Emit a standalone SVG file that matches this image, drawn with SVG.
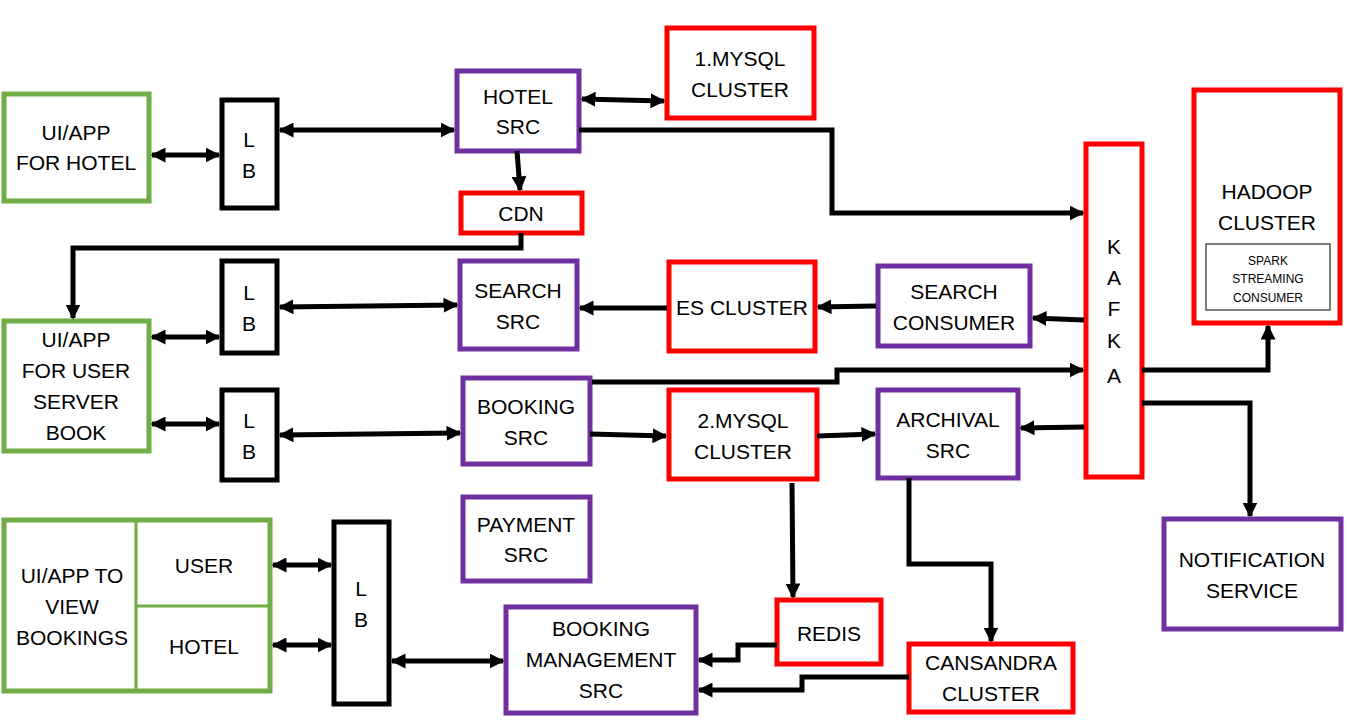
<svg xmlns="http://www.w3.org/2000/svg" width="1350" height="724" viewBox="0 0 1350 724">
<style>
.g{fill:#fff;stroke:#70AD47;stroke-width:5}
.k{fill:#fff;stroke:#000;stroke-width:5}
.p{fill:#fff;stroke:#7030A0;stroke-width:5}
.r{fill:#fff;stroke:#FF0000;stroke-width:5}
text{font-family:"Liberation Sans",Arial,sans-serif;font-size:21px;fill:#000;text-anchor:middle}
.s{font-size:12px}
.c{fill:none;stroke:#000;stroke-width:5}
</style>
<defs>
<marker id="a" viewBox="0 0 10 10" refX="9" refY="5" markerWidth="3" markerHeight="3" orient="auto"><path d="M0,0L10,5L0,10z" fill="#000"/></marker>
<marker id="b" viewBox="0 0 10 10" refX="1" refY="5" markerWidth="3" markerHeight="3" orient="auto"><path d="M10,0L0,5L10,10z" fill="#000"/></marker>
</defs>
<g id="uihotel"><rect class="g" x="4" y="94" width="145" height="107"/><text x="76" y="140">UI/APP</text><text x="76" y="170">FOR HOTEL</text></g>
<g id="lb1"><rect class="k" x="222" y="100" width="55" height="108"/><text x="249" y="147">L</text><text x="249" y="178">B</text></g>
<g id="hotelsrc"><rect class="p" x="457" y="71" width="122" height="80"/><text x="518" y="104">HOTEL</text><text x="518" y="134">SRC</text></g>
<g id="mysql1"><rect class="r" x="667" y="28" width="147" height="90"/><text x="740" y="66">1.MYSQL</text><text x="740" y="97">CLUSTER</text></g>
<g id="cdn"><rect class="r" x="461" y="193" width="121" height="40"/><text x="521" y="221">CDN</text></g>
<g id="hadoop"><rect class="r" x="1194" y="90" width="146" height="233"/><text x="1267" y="199">HADOOP</text><text x="1267" y="230">CLUSTER</text><rect x="1206" y="244" width="124" height="66" fill="#fff" stroke="#000" stroke-width="1"/><text class="s" x="1268" y="265">SPARK</text><text class="s" x="1268" y="283">STREAMING</text><text class="s" x="1268" y="302">CONSUMER</text></g>
<g id="kafka"><rect class="r" x="1086" y="144" width="56" height="333"/><text x="1114" y="254">K</text><text x="1114" y="285">A</text><text x="1114" y="316">F</text><text x="1114" y="348">K</text><text x="1114" y="383">A</text></g>
<g id="lb2"><rect class="k" x="222" y="261" width="55" height="92"/><text x="249" y="300">L</text><text x="249" y="331">B</text></g>
<g id="searchsrc"><rect class="p" x="460" y="261" width="117" height="88"/><text x="518" y="298">SEARCH</text><text x="518" y="329">SRC</text></g>
<g id="es"><rect class="r" x="669" y="262" width="146" height="89"/><text x="742" y="315">ES CLUSTER</text></g>
<g id="searchconsumer"><rect class="p" x="878" y="266" width="152" height="80"/><text x="954" y="299">SEARCH</text><text x="954" y="330">CONSUMER</text></g>
<g id="uiuser"><rect class="g" x="4" y="321" width="145" height="130"/><text x="76" y="347">UI/APP</text><text x="76" y="378">FOR USER</text><text x="76" y="409">SERVER</text><text x="76" y="440">BOOK</text></g>
<g id="lb3"><rect class="k" x="222" y="390" width="55" height="90"/><text x="249" y="428">L</text><text x="249" y="459">B</text></g>
<g id="bookingsrc"><rect class="p" x="463" y="378" width="127" height="86"/><text x="526" y="414">BOOKING</text><text x="526" y="445">SRC</text></g>
<g id="mysql2"><rect class="r" x="669" y="390" width="148" height="89"/><text x="743" y="428">2.MYSQL</text><text x="743" y="459">CLUSTER</text></g>
<g id="archival"><rect class="p" x="878" y="390" width="140" height="88"/><text x="948" y="427">ARCHIVAL</text><text x="948" y="458">SRC</text></g>
<g id="payment"><rect class="p" x="463" y="497" width="127" height="84"/><text x="526" y="532">PAYMENT</text><text x="526" y="562">SRC</text></g>
<g id="uiview"><rect class="g" x="4" y="520" width="266" height="171"/><line x1="136" y1="520" x2="136" y2="691" stroke="#70AD47" stroke-width="3"/><line x1="136" y1="606" x2="270" y2="606" stroke="#70AD47" stroke-width="3"/><text x="72" y="583">UI/APP  TO</text><text x="72" y="614">VIEW</text><text x="72" y="645">BOOKINGS</text><text x="204" y="573">USER</text><text x="204" y="654">HOTEL</text></g>
<g id="lb4"><rect class="k" x="334" y="522" width="55" height="182"/><text x="361" y="596">L</text><text x="361" y="627">B</text></g>
<g id="bms"><rect class="p" x="506" y="607" width="190" height="106"/><text x="601" y="636">BOOKING</text><text x="601" y="667">MANAGEMENT</text><text x="601" y="698">SRC</text></g>
<g id="redis"><rect class="r" x="777" y="600" width="104" height="64"/><text x="829" y="641">REDIS</text></g>
<g id="cassandra"><rect class="r" x="909" y="644" width="164" height="68"/><text x="991" y="670">CANSANDRA</text><text x="991" y="701">CLUSTER</text></g>
<g id="notification"><rect class="p" x="1164" y="519" width="177" height="110"/><text x="1252" y="567">NOTIFICATION</text><text x="1252" y="598">SERVICE</text></g>
<g id="connectors">
<path class="c" d="M152,155H219" marker-start="url(#b)" marker-end="url(#a)"/>
<path class="c" d="M280,130H454" marker-start="url(#b)" marker-end="url(#a)"/>
<path class="c" d="M582,99L664,101" marker-start="url(#b)" marker-end="url(#a)"/>
<path class="c" d="M517,151L520,190" marker-end="url(#a)"/>
<path class="c" d="M579,130H832V213H1083" marker-end="url(#a)"/>
<path class="c" d="M521,233V248H73V318" marker-end="url(#a)"/>
<path class="c" d="M152,337H219" marker-start="url(#b)" marker-end="url(#a)"/>
<path class="c" d="M280,307L457,305" marker-start="url(#b)" marker-end="url(#a)"/>
<path class="c" d="M667,308H580" marker-end="url(#a)"/>
<path class="c" d="M876,306L818,307" marker-end="url(#a)"/>
<path class="c" d="M1084,320L1033,318" marker-end="url(#a)"/>
<path class="c" d="M592,382H837V370H1083" marker-end="url(#a)"/>
<path class="c" d="M152,424H219" marker-start="url(#b)" marker-end="url(#a)"/>
<path class="c" d="M280,435L460,433" marker-start="url(#b)" marker-end="url(#a)"/>
<path class="c" d="M590,434L666,436" marker-end="url(#a)"/>
<path class="c" d="M817,436L875,434" marker-end="url(#a)"/>
<path class="c" d="M1084,427L1021,428" marker-end="url(#a)"/>
<path class="c" d="M1142,370H1268V326" marker-end="url(#a)"/>
<path class="c" d="M1142,403H1250V516" marker-end="url(#a)"/>
<path class="c" d="M792,483L793,597" marker-end="url(#a)"/>
<path class="c" d="M909,478V564H991V641" marker-end="url(#a)"/>
<path class="c" d="M273,565H331" marker-start="url(#b)" marker-end="url(#a)"/>
<path class="c" d="M273,645H331" marker-start="url(#b)" marker-end="url(#a)"/>
<path class="c" d="M392,661H503" marker-start="url(#b)" marker-end="url(#a)"/>
<path class="c" d="M777,645H738V660H699" marker-end="url(#a)"/>
<path class="c" d="M909,677H802V690H699" marker-end="url(#a)"/>
</g>
</svg>
